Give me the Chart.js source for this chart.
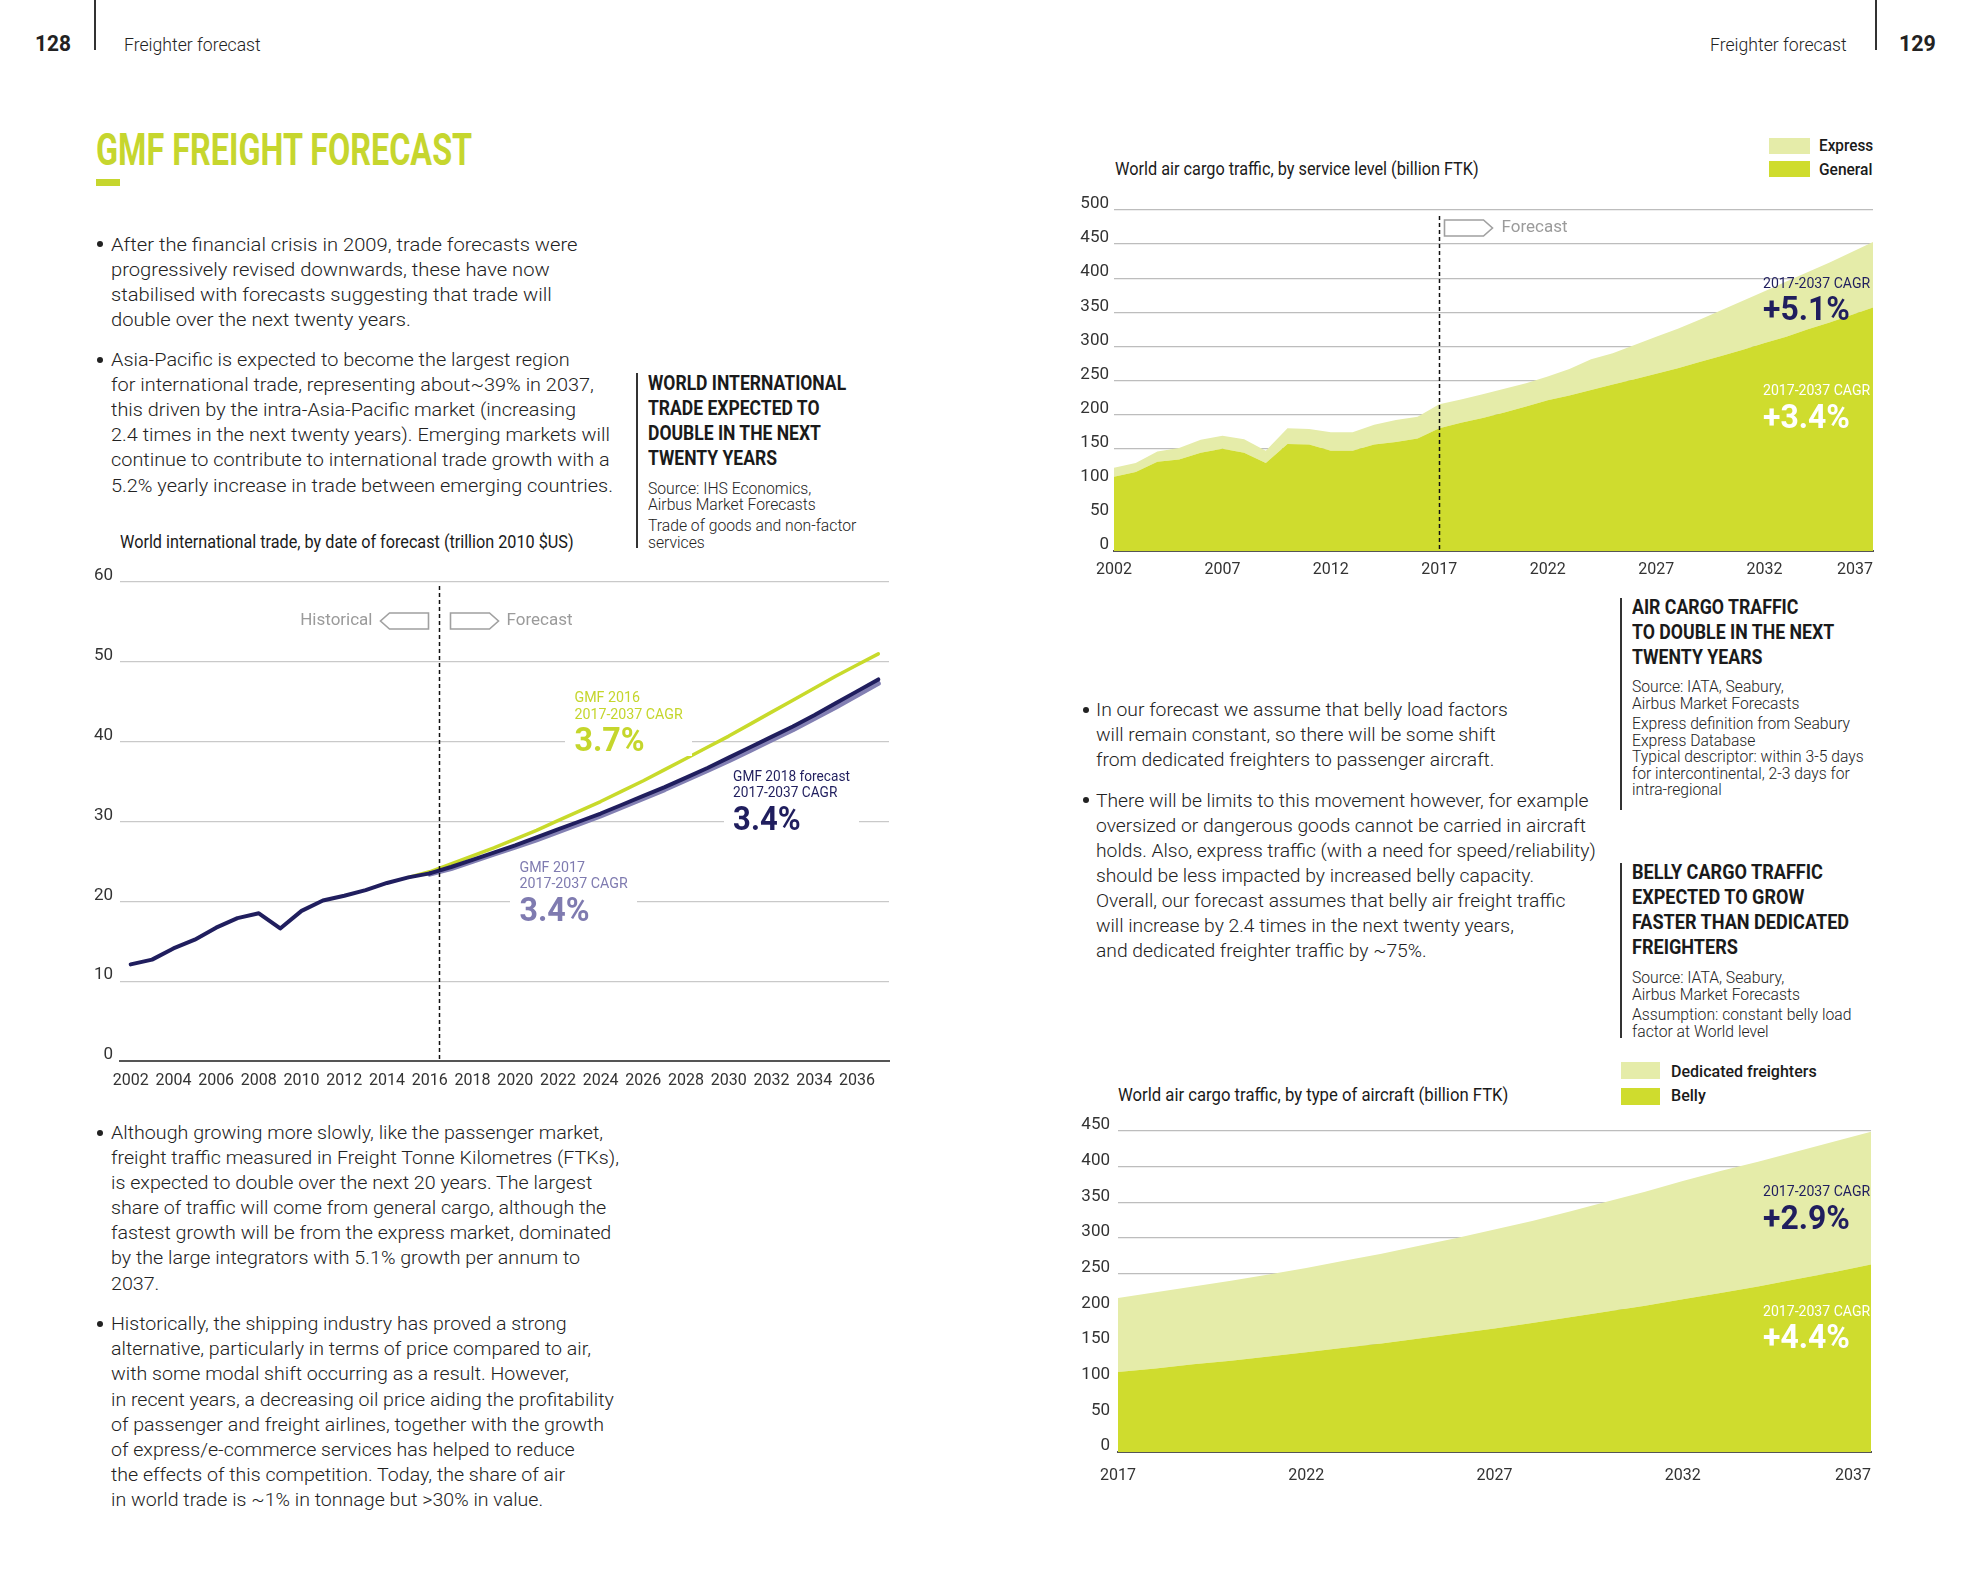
<!DOCTYPE html>
<html>
<head>
<meta charset="utf-8">
<title>GMF Freight Forecast</title>
<script src="https://cdn.jsdelivr.net/npm/chart.js@4.4.1/dist/chart.umd.min.js"></script>
<style>
  html, body { margin: 0; padding: 0; background: #fff; }
  #page { position: relative; width: 1969px; height: 1575px; overflow: hidden;
          font-family: Roboto, 'Liberation Sans', sans-serif; color: #222; }
  .t { position: absolute; white-space: nowrap; transform-origin: 0 0; }
  .body { font-size: 19px; line-height: 25.1px; font-weight: 300; }
  .head { font-size: 20px; line-height: 25.1px; font-weight: 700; color: #1a1a1a; }
  .src { font-size: 16px; line-height: 16.5px; font-weight: 300; }
  .src p { margin: 0; }
  .src p + p { margin-top: 4.4px; }
  .ctitle { font-size: 19px; line-height: 24px; font-weight: 400; color: #1a1a1a; }
  .leg { font-size: 17px; line-height: 20px; font-weight: 500; color: #1a1a1a; }
  .dot { position: absolute; width: 6px; height: 6px; border-radius: 50%; background: #222; }
  .vbar { position: absolute; width: 2px; background: #333; }
  .sw { position: absolute; }
  .box { position: absolute; }
  .cagr { font-size: 15px; line-height: 16.5px; font-weight: 400; }
  .cagr .big { font-size: 34px; line-height: 34px; font-weight: 700; }
  .pad { background: #fff; padding: 0 10px; }
</style>
</head>
<body>
<div id="page">

  <!-- page headers -->
  <div class="t" style="left:35px;top:31px;font-size:22px;line-height:26px;font-weight:700;" data-w="36">128</div>
  <div class="vbar" style="left:94px;top:0;height:50px;"></div>
  <div class="t" style="left:123.5px;top:32.5px;font-size:18px;line-height:24px;font-weight:300;" data-w="137">Freighter forecast</div>
  <div class="t" style="left:1709.5px;top:32.5px;font-size:18px;line-height:24px;font-weight:300;" data-w="137">Freighter forecast</div>
  <div class="vbar" style="left:1875px;top:0;height:50px;"></div>
  <div class="t" style="left:1899px;top:31px;font-size:22px;line-height:26px;font-weight:700;" data-w="37">129</div>

  <!-- title -->
  <div class="t" style="left:96px;top:124.5px;font-size:44px;line-height:50px;font-weight:700;color:#c6d62e;" data-w="376">GMF FREIGHT FORECAST</div>
  <div class="sw" style="left:96px;top:179px;width:24px;height:7px;background:#c6d62e;"></div>

  <!-- left page text -->
  <div class="dot" style="left:97px;top:241.3px;"></div>
  <div class="t body" style="left:110.5px;top:231.5px;" data-w="467">After the financial crisis in 2009, trade forecasts were<br>progressively revised downwards, these have now<br>stabilised with forecasts suggesting that trade will<br>double over the next twenty years.</div>

  <div class="dot" style="left:97px;top:356.9px;"></div>
  <div class="t body" style="left:110.5px;top:347.1px;" data-w="502">Asia-Pacific is expected to become the largest region<br>for international trade, representing about~39% in 2037,<br>this driven by the intra-Asia-Pacific market (increasing<br>2.4 times in the next twenty years). Emerging markets will<br>continue to contribute to international trade growth with a<br>5.2% yearly increase in trade between emerging countries.</div>

  <div class="vbar" style="left:636px;top:372.5px;height:175px;"></div>
  <div class="t head" style="left:647.5px;top:370.9px;" data-w="198">WORLD INTERNATIONAL<br>TRADE EXPECTED TO<br>DOUBLE IN THE NEXT<br>TWENTY YEARS</div>
  <div class="t src" style="left:647.5px;top:480.9px;" data-w="208"><p>Source: IHS Economics,<br>Airbus Market Forecasts</p><p>Trade of goods and non-factor<br>services</p></div>

  <div class="t ctitle" style="left:119.5px;top:530px;" data-w="454">World international trade, by date of forecast (trillion 2010 $US)</div>

  <div class="dot" style="left:97px;top:1129.8px;"></div>
  <div class="t body" style="left:110.5px;top:1120px;" data-w="508">Although growing more slowly, like the passenger market,<br>freight traffic measured in Freight Tonne Kilometres (FTKs),<br>is expected to double over the next 20 years. The largest<br>share of traffic will come from general cargo, although the<br>fastest growth will be from the express market, dominated<br>by the large integrators with 5.1% growth per annum to<br>2037.</div>

  <div class="dot" style="left:97px;top:1321.1px;"></div>
  <div class="t body" style="left:110.5px;top:1311.3px;" data-w="503">Historically, the shipping industry has proved a strong<br>alternative, particularly in terms of price compared to air,<br>with some modal shift occurring as a result. However,<br>in recent years, a decreasing oil price aiding the profitability<br>of passenger and freight airlines, together with the growth<br>of express/e-commerce services has helped to reduce<br>the effects of this competition. Today, the share of air<br>in world trade is ~1% in tonnage but &gt;30% in value.</div>

  <!-- right page text -->
  <div class="t ctitle" style="left:1114.5px;top:157.4px;" data-w="364">World air cargo traffic, by service level (billion FTK)</div>
  <div class="sw" style="left:1769px;top:137.5px;width:41px;height:16px;background:#e5eca9;"></div>
  <div class="sw" style="left:1769px;top:161.4px;width:41px;height:16px;background:#cfdc2e;"></div>
  <div class="t leg" style="left:1819px;top:135.4px;" data-w="54">Express</div>
  <div class="t leg" style="left:1819px;top:159.4px;" data-w="53">General</div>

  <div class="vbar" style="left:1620px;top:597.7px;height:212px;"></div>
  <div class="t head" style="left:1632px;top:595.1px;" data-w="202">AIR CARGO TRAFFIC<br>TO DOUBLE IN THE NEXT<br>TWENTY YEARS</div>
  <div class="t src" style="left:1632px;top:679.1px;" data-w="232"><p>Source: IATA, Seabury,<br>Airbus Market Forecasts</p><p>Express definition from Seabury<br>Express Database<br>Typical descriptor: within 3-5 days<br>for intercontinental, 2-3 days for<br>intra-regional</p></div>

  <div class="vbar" style="left:1620px;top:862.7px;height:175px;"></div>
  <div class="t head" style="left:1632px;top:860.1px;" data-w="217">BELLY CARGO TRAFFIC<br>EXPECTED TO GROW<br>FASTER THAN DEDICATED<br>FREIGHTERS</div>
  <div class="t src" style="left:1632px;top:970px;" data-w="219"><p>Source: IATA, Seabury,<br>Airbus Market Forecasts</p><p>Assumption: constant belly load<br>factor at World level</p></div>

  <div class="dot" style="left:1083px;top:706.6px;"></div>
  <div class="t body" style="left:1096px;top:696.8px;" data-w="412">In our forecast we assume that belly load factors<br>will remain constant, so there will be some shift<br>from dedicated freighters to passenger aircraft.</div>

  <div class="dot" style="left:1083px;top:797.3px;"></div>
  <div class="t body" style="left:1096px;top:787.5px;" data-w="500">There will be limits to this movement however, for example<br>oversized or dangerous goods cannot be carried in aircraft<br>holds. Also, express traffic (with a need for speed/reliability)<br>should be less impacted by increased belly capacity.<br>Overall, our forecast assumes that belly air freight traffic<br>will increase by 2.4 times in the next twenty years,<br>and dedicated freighter traffic by ~75%.</div>

  <div class="t ctitle" style="left:1118px;top:1082.8px;" data-w="390">World air cargo traffic, by type of aircraft (billion FTK)</div>
  <div class="sw" style="left:1621px;top:1062px;width:39px;height:17px;background:#e5eca9;"></div>
  <div class="sw" style="left:1621px;top:1088px;width:39px;height:17px;background:#cfdc2e;"></div>
  <div class="t leg" style="left:1670.5px;top:1060.9px;" data-w="146">Dedicated freighters</div>
  <div class="t leg" style="left:1670.5px;top:1084.8px;" data-w="35">Belly</div>

  <!-- charts -->
  <div class="box" style="left:50px;top:556px;width:867px;height:536px;"><canvas id="trade-chart"></canvas></div>
  <div class="box" style="left:1050px;top:180px;width:853px;height:408px;"><canvas id="service-chart"></canvas></div>
  <div class="box" style="left:1050px;top:1100px;width:853px;height:395px;"><canvas id="aircraft-chart"></canvas></div>

  <!-- chart annotations -->
  <div class="t cagr pad" style="left:565px;top:689px;color:#c5d62c;" data-w="127">GMF 2016<br>2017-2037 CAGR<div class="big">3.7%</div></div>
  <div class="t cagr pad" style="left:724px;top:767.8px;color:#201e5e;" data-w="135">GMF 2018 forecast<br>2017-2037 CAGR<div class="big">3.4%</div></div>
  <div class="t cagr pad" style="left:510px;top:858.5px;color:#7f7bb0;" data-w="127">GMF 2017<br>2017-2037 CAGR<div class="big">3.4%</div></div>

  <div class="t cagr" style="left:1762.5px;top:274.7px;color:#201e5e;" data-w="107">2017-2037 CAGR<div class="big">+5.1%</div></div>
  <div class="t cagr" style="left:1762.5px;top:382.3px;color:#fff;" data-w="107">2017-2037 CAGR<div class="big">+3.4%</div></div>
  <div class="t cagr" style="left:1762.5px;top:1183.3px;color:#201e5e;" data-w="107">2017-2037 CAGR<div class="big">+2.9%</div></div>
  <div class="t cagr" style="left:1762.5px;top:1302.8px;color:#fff;" data-w="107">2017-2037 CAGR<div class="big">+4.4%</div></div>
</div>

<script>
// World international trade, by date of forecast (trillion 2010 $US)
const histYears = [2002, 2003, 2004, 2005, 2006, 2007, 2008, 2009, 2010, 2011, 2012, 2013, 2014, 2015, 2016];
const histTrade = [12.1, 12.7, 14.1, 15.2, 16.7, 17.9, 18.5, 16.6, 18.8, 20.1, 20.7, 21.4, 22.3, 23.0, 23.5];
const forecastYears = [2016, 2017, 2018, 2019, 2020, 2021, 2022, 2023, 2024, 2025, 2026,
                       2027, 2028, 2029, 2030, 2031, 2032, 2033, 2034, 2035, 2036, 2037];
const gmf2018Trade = [23.5, 24.3, 25.2, 26.1, 27.0, 28.0, 29.0, 30.0, 31.0, 32.1, 33.2,
                      34.3, 35.5, 36.7, 38.0, 39.3, 40.6, 41.9, 43.3, 44.8, 46.3, 47.8];
const gmf2017Trade = [23.4, 24.1, 25.0, 25.9, 26.8, 27.7, 28.7, 29.7, 30.7, 31.8, 32.9,
                      34.0, 35.2, 36.4, 37.6, 38.9, 40.2, 41.5, 42.9, 44.3, 45.8, 47.3];
const gmf2016Years = [2015, 2016, 2017, 2018, 2019, 2020, 2021, 2022, 2023, 2024, 2025, 2026,
                      2027, 2028, 2029, 2030, 2031, 2032, 2033, 2034, 2035, 2036, 2037];
const gmf2016Trade = [23.0, 23.7, 24.7, 25.7, 26.7, 27.8, 28.9, 30.1, 31.3, 32.5, 33.8, 35.1,
                      36.5, 37.9, 39.3, 40.7, 42.2, 43.7, 45.2, 46.7, 48.2, 49.6, 51.0];
const tradeTicks = [2002, 2004, 2006, 2008, 2010, 2012, 2014, 2016, 2018,
                    2020, 2022, 2024, 2026, 2028, 2030, 2032, 2034, 2036];
const tradeForecastStart = 2016.45;

// World air cargo traffic, by service level (billion FTK)
const cargoYears = [2002, 2003, 2004, 2005, 2006, 2007, 2008, 2009, 2010, 2011, 2012, 2013,
                    2014, 2015, 2016, 2017, 2018, 2019, 2020, 2021, 2022, 2023, 2024, 2025,
                    2026, 2027, 2028, 2029, 2030, 2031, 2032, 2033, 2034, 2035, 2036, 2037];
const generalFtk = [109, 116, 131, 134, 144, 150, 144, 129, 157, 156, 147, 147,
                    156, 160, 165, 180, 188, 195, 203, 212, 221, 228, 236, 244,
                    252, 260, 268, 277, 286, 295, 305, 314, 325, 335, 346, 357];
const expressFtk = [13, 13, 15, 17, 19, 19, 20, 18, 23, 23, 27, 27,
                    29, 32, 32, 35, 34, 35, 35, 34, 35, 39, 45, 46,
                    50, 54, 58, 62, 67, 72, 76, 81, 84, 88, 92, 96];
const cargoTicks = [2002, 2007, 2012, 2017, 2022, 2027, 2032, 2037];
const cargoForecastStart = 2017;

// World air cargo traffic, by type of aircraft (billion FTK)
const aircraftYears = [2017, 2018, 2019, 2020, 2021, 2022, 2023, 2024, 2025, 2026, 2027,
                       2028, 2029, 2030, 2031, 2032, 2033, 2034, 2035, 2036, 2037];
const bellyFtk = [112, 117, 123, 128, 134, 140, 146, 152, 159, 166, 173,
                  181, 189, 197, 205, 214, 223, 232, 242, 252, 263];
const freighterFtk = [104, 107, 109, 112, 115, 118, 122, 126, 130, 134, 139,
                      143, 148, 154, 160, 166, 171, 175, 179, 183, 186];
const aircraftTicks = [2017, 2022, 2027, 2032, 2037];

// Colours
const LIME = '#cfdc2e';
const PALE = '#e5eca9';
const NAVY = '#201e5e';
const PURPLE = '#8380b3';
const LINE_LIME = '#c8da2b';
const TICK_FONT = "'Liberation Sans Narrow', Roboto, sans-serif";

function points(xs, ys) {
    return xs.map((x, i) => ({ x: x, y: ys[i] }));
}

// Draw a tag shaped outline (arrow box) pointing left or right
function drawTag(ctx, x0, cy, dir, w, h) {
    const tip = 9;
    ctx.beginPath();
    ctx.moveTo(x0, cy - h / 2);
    ctx.lineTo(x0 + dir * (w - tip), cy - h / 2);
    ctx.lineTo(x0 + dir * w, cy);
    ctx.lineTo(x0 + dir * (w - tip), cy + h / 2);
    ctx.lineTo(x0, cy + h / 2);
    ctx.closePath();
    ctx.fillStyle = '#fff';
    ctx.fill();
    ctx.stroke();
}

// Forecast divider: dashed line plus Historical / Forecast tags
const forecastMarker = {
    id: 'forecastMarker',
    afterDatasetsDraw(chart, args, opts) {
        const { ctx, chartArea, scales } = chart;
        const x = Math.round(scales.x.getPixelForValue(opts.year)) + 0.5;
        ctx.save();
        ctx.strokeStyle = '#111';
        ctx.lineWidth = 1.5;
        ctx.setLineDash([4, 3]);
        ctx.beginPath();
        ctx.moveTo(x, chartArea.top + opts.top);
        ctx.lineTo(x, chartArea.bottom);
        ctx.stroke();
        ctx.setLineDash([]);

        const cy = chartArea.top + opts.arrowY;
        ctx.strokeStyle = '#a0a0a0';
        ctx.lineWidth = 1.6;
        drawTag(ctx, x + opts.gap, cy, 1, opts.tagW, opts.tagH);
        if (opts.historical) drawTag(ctx, x - opts.gap, cy, -1, opts.tagW, opts.tagH);

        ctx.font = '17px ' + TICK_FONT;
        ctx.fillStyle = '#9b9b9b';
        ctx.textBaseline = 'middle';
        ctx.textAlign = 'left';
        ctx.fillText('Forecast', x + opts.gap + opts.tagW + opts.textGap, cy);
        if (opts.historical) {
            ctx.textAlign = 'right';
            ctx.fillText('Historical', x - opts.gap - opts.tagW - opts.textGap, cy);
        }
        ctx.restore();
    }
};

// Right-align the last year label with the end of the plot
const endLabel = {
    id: 'endLabel',
    beforeDraw(chart) {
        const scale = chart.scales.x;
        const items = scale.getLabelItems();
        const last = items[items.length - 1];
        if (last && last.options && last.options.translation) {
            last.options.textAlign = 'right';
            last.options.translation[0] = chart.chartArea.right;
        }
    }
};

function xScale(min, max, ticks, labelPad, height) {
    return {
        type: 'linear',
        min: min,
        max: max,
        z: 1,
        grid: { display: false, drawTicks: false },
        border: { display: true, color: '#555', width: 2 },
        afterBuildTicks: s => { s.ticks = ticks.map(v => ({ value: v })); },
        afterFit: s => { s.height = height; },
        ticks: {
            autoSkip: false,
            maxRotation: 0,
            padding: labelPad,
            color: '#333',
            font: { family: TICK_FONT, size: 16 },
            callback: v => String(v)
        }
    };
}

function yScale(max, step, width, labelPad, gridColor) {
    return {
        min: 0,
        max: max,
        grid: { color: gridColor, lineWidth: 1.2, drawTicks: false },
        border: { display: false },
        afterFit: s => { s.width = width; },
        ticks: {
            stepSize: step,
            padding: labelPad,
            labelOffset: -6,
            color: '#333',
            font: { family: TICK_FONT, size: 17 }
        }
    };
}

// Trade chart
function renderTradeChart() {
    const ctx = document.getElementById('trade-chart').getContext('2d');
    new Chart(ctx, {
        type: 'line',
        data: {
            datasets: [
                { label: 'Historical', data: points(histYears, histTrade), borderColor: NAVY, borderWidth: 4 },
                { label: 'GMF 2018 forecast', data: points(forecastYears, gmf2018Trade), borderColor: NAVY, borderWidth: 4 },
                { label: 'GMF 2016', data: points(gmf2016Years, gmf2016Trade), borderColor: LINE_LIME, borderWidth: 3.5 },
                { label: 'GMF 2017', data: points(forecastYears, gmf2017Trade), borderColor: PURPLE, borderWidth: 5 }
            ]
        },
        options: {
            responsive: true,
            maintainAspectRatio: false,
            animation: false,
            layout: { padding: { left: 0, right: 28, top: 26, bottom: 0 } },
            elements: {
                point: { radius: 0 },
                line: { tension: 0, fill: false, borderJoinStyle: 'round', borderCapStyle: 'round' }
            },
            scales: {
                x: xScale(2001.5, 2037.5, tradeTicks, 10, 31),
                y: yScale(60, 10, 70, 7, '#c9c9c9')
            },
            plugins: {
                legend: { display: false },
                tooltip: { enabled: false },
                forecastMarker: { year: tradeForecastStart, top: 4, arrowY: 39, gap: 11, tagW: 48, tagH: 16, textGap: 8, historical: true }
            }
        },
        plugins: [forecastMarker]
    });
}

// Service level chart
function renderServiceChart() {
    const ctx = document.getElementById('service-chart').getContext('2d');
    new Chart(ctx, {
        type: 'line',
        data: {
            datasets: [
                { label: 'General', data: points(cargoYears, generalFtk), backgroundColor: LIME, fill: 'origin' },
                { label: 'Express', data: points(cargoYears, expressFtk), backgroundColor: PALE, fill: '-1' }
            ]
        },
        options: {
            responsive: true,
            maintainAspectRatio: false,
            animation: false,
            layout: { padding: { left: 0, right: 30, top: 30, bottom: 3 } },
            elements: {
                point: { radius: 0 },
                line: { tension: 0, borderWidth: 0, borderColor: 'rgba(0,0,0,0)' }
            },
            scales: {
                x: xScale(2002, 2037, cargoTicks, 9, 34),
                y: Object.assign(yScale(500, 50, 64, 5, '#bdbdbd'), { stacked: true })
            },
            plugins: {
                legend: { display: false },
                tooltip: { enabled: false },
                forecastMarker: { year: cargoForecastStart, top: 6, arrowY: 18, gap: 5, tagW: 48, tagH: 16, textGap: 9, historical: false }
            }
        },
        plugins: [forecastMarker, endLabel]
    });
}

// Aircraft type chart
function renderAircraftChart() {
    const ctx = document.getElementById('aircraft-chart').getContext('2d');
    new Chart(ctx, {
        type: 'line',
        data: {
            datasets: [
                { label: 'Belly', data: points(aircraftYears, bellyFtk), backgroundColor: LIME, fill: 'origin' },
                { label: 'Dedicated freighters', data: points(aircraftYears, freighterFtk), backgroundColor: PALE, fill: '-1' }
            ]
        },
        options: {
            responsive: true,
            maintainAspectRatio: false,
            animation: false,
            layout: { padding: { left: 0, right: 30, top: 31, bottom: 7 } },
            elements: {
                point: { radius: 0 },
                line: { tension: 0, borderWidth: 0, borderColor: 'rgba(0,0,0,0)' }
            },
            scales: {
                x: xScale(2017, 2037, aircraftTicks, 14, 36),
                y: Object.assign(yScale(450, 50, 68, 8, '#bdbdbd'), { stacked: true })
            },
            plugins: {
                legend: { display: false },
                tooltip: { enabled: false }
            }
        },
        plugins: [endLabel]
    });
}

// Squeeze text blocks to the widths measured on the printed page
function fitText() {
    document.querySelectorAll('[data-w]').forEach(el => {
        const w = el.offsetWidth;
        if (w > 0) el.style.transform = 'scaleX(' + (parseFloat(el.dataset.w) / w) + ')';
    });
}

renderTradeChart();
renderServiceChart();
renderAircraftChart();
fitText();
if (document.fonts && document.fonts.ready) document.fonts.ready.then(fitText);
</script>
</body>
</html>
